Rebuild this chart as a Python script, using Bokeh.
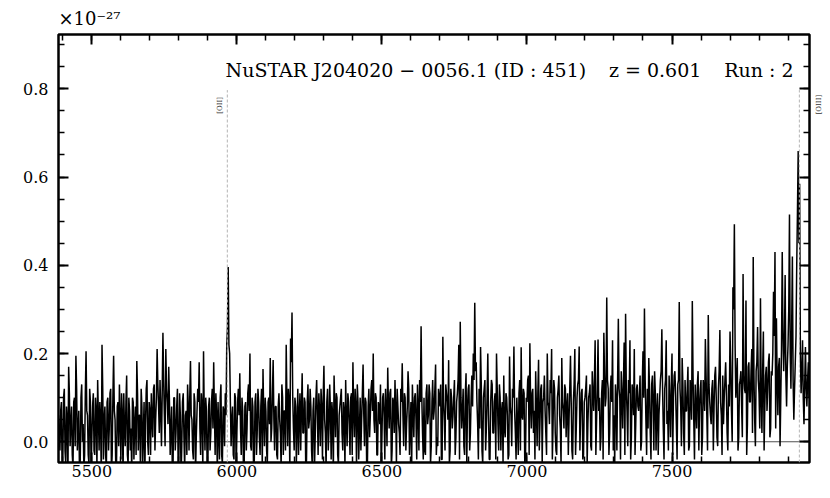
import numpy as np
from bokeh.plotting import figure
from bokeh.models import (LinearAxis, FixedTicker, PrintfTickFormatter, Label, Range1d,
                          Span, CustomLabelingPolicy)
from bokeh.embed import file_html
from bokeh.resources import INLINE

# ---------------- data (flux in units of 1e-27) ----------------
# main samples every 5 A starting at WL_START; "half" samples sit 2.5 A after each main one
WL_START = 5385.0
WL_STEP = 2.5

flux_5385 = [0.06, -0.02, 0.09, -0.04, 0.12, -0.05, 0.05, 0.17, -0.01, 0.08,
             -0.06, 0.10, 0.195, -0.02, 0.07, -0.04, 0.13, 0.04, -0.03, 0.205,
             0.06, -0.05, 0.09, 0.01, 0.11, -0.03, 0.07, 0.14, -0.02, 0.05,
             0.22, -0.04, 0.08, -0.06, 0.10, 0.03, 0.12, -0.03, 0.195, 0.05,
             -0.05, 0.09, 0.13, -0.04, 0.06, 0.11, -0.01, 0.15, -0.05, 0.07]
half_5385 = [0.02, 0.07, -0.07, 0.10, -0.02, 0.08, -0.08, 0.11, 0.04, -0.03,
             0.09, -0.01, 0.12, 0.03, -0.08, 0.10, 0.00, -0.06, 0.11, 0.07,
             -0.03, 0.12, -0.07, 0.08, -0.02, 0.10, -0.06, 0.06, 0.09, -0.08,
             0.12, 0.05, -0.03, 0.09, -0.02, 0.11, -0.07, 0.10, 0.07, -0.06,
             0.08, -0.01, 0.05, 0.11, -0.08, 0.03, 0.09, -0.03, 0.10, -0.02]
flux_5635 = [0.03, 0.10, -0.04, 0.08, 0.183, -0.02, 0.06, 0.12, -0.05, 0.09,
             0.04, 0.14, -0.03, 0.07, 0.11, 0.01, 0.13, 0.05, 0.21, 0.08,
             0.14, -0.01, 0.247, 0.06, 0.21, 0.09, 0.17, -0.03, 0.08, -0.05,
             0.10, 0.02, 0.12, -0.04, 0.06, -0.01, 0.11, -0.06, 0.07, 0.13,
             -0.02, 0.183, 0.05, -0.04, 0.09, 0.01, 0.12, 0.18, -0.03, 0.08]
half_5635 = [-0.07, 0.09, 0.04, -0.03, 0.11, 0.06, -0.06, 0.08, 0.02, -0.08,
             0.12, 0.00, 0.09, -0.03, 0.05, 0.12, -0.02, 0.10, 0.13, 0.02,
             0.07, 0.11, 0.14, -0.01, 0.12, 0.04, 0.09, 0.03, -0.07, 0.10,
             -0.02, 0.08, -0.06, 0.11, -0.08, 0.09, 0.01, 0.06, -0.03, 0.08,
             0.10, 0.06, -0.02, 0.11, -0.07, 0.07, 0.09, 0.03, 0.11, -0.06]
flux_5885 = [0.205, -0.02, 0.07, -0.05, 0.10, 0.02, 0.12, 0.18, -0.03, 0.06,
             0.09, -0.04, 0.13, -0.05, 0.07, 0.11, 0.22, 0.396, 0.20, -0.01,
             0.08, -0.04, 0.10, 0.02, 0.12, 0.155, -0.03, 0.07, -0.06, 0.09,
             0.03, 0.13, 0.20, -0.02, 0.08, -0.04, 0.11, 0.02, 0.09, -0.03,
             0.12, 0.165, -0.01, 0.07, -0.05, 0.10, 0.19, 0.03, 0.185, -0.02]
half_5885 = [0.06, 0.10, -0.06, 0.08, -0.02, 0.09, 0.03, 0.07, 0.11, -0.07,
             0.02, 0.10, -0.03, 0.08, -0.01, 0.06, 0.26, 0.22, 0.09, 0.05,
             -0.03, 0.11, -0.07, 0.09, 0.06, 0.03, 0.10, -0.06, 0.08, -0.02,
             0.11, 0.07, -0.01, 0.10, -0.07, 0.09, -0.03, 0.12, 0.01, 0.08,
             -0.06, 0.06, 0.10, -0.02, 0.09, 0.04, 0.00, 0.11, 0.05, 0.08]
flux_6135 = [0.08, -0.04, 0.11, 0.02, 0.13, -0.03, 0.07, 0.22, -0.01, 0.09,
             0.234, 0.293, 0.03, 0.10, -0.05, 0.12, 0.06, -0.02, 0.155, 0.02,
             0.09, -0.04, 0.13, 0.05, 0.08, -0.06, 0.10, 0.01, 0.14, -0.03,
             0.07, 0.12, -0.04, 0.172, 0.02, 0.09, -0.02, 0.13, -0.04, 0.06,
             0.15, 0.01, 0.10, -0.05, 0.08, 0.12, -0.02, 0.07, 0.14, -0.01]
half_6135 = [-0.03, 0.08, 0.05, -0.06, 0.10, 0.07, -0.02, 0.09, 0.12, -0.07,
             0.18, 0.10, -0.02, 0.08, 0.04, -0.03, 0.11, 0.07, 0.02, 0.10,
             -0.07, 0.09, 0.03, 0.12, -0.02, 0.07, -0.06, 0.10, 0.06, 0.11,
             -0.01, 0.08, 0.10, 0.05, -0.06, 0.12, 0.03, 0.07, 0.09, -0.07,
             0.08, 0.11, -0.03, 0.06, 0.10, 0.02, 0.09, -0.06, 0.05, 0.11]
flux_6385 = [0.09, -0.03, 0.11, 0.18, 0.01, 0.08, 0.13, -0.04, 0.10, 0.05,
             0.175, -0.01, 0.09, -0.05, 0.12, 0.06, 0.14, 0.20, 0.02, 0.10,
             -0.03, 0.08, 0.13, 0.01, 0.11, -0.04, 0.07, 0.168, 0.03, 0.12,
             -0.02, 0.09, 0.14, -0.05, 0.08, 0.02, 0.12, 0.178, -0.01, 0.10,
             0.04, 0.16, -0.03, 0.09, 0.13, 0.01, 0.11, -0.04, 0.08, 0.14]
half_6385 = [0.04, 0.10, -0.03, 0.07, 0.12, -0.06, 0.09, 0.03, -0.02, 0.11,
             0.06, 0.10, -0.06, 0.08, 0.01, 0.12, 0.07, 0.05, 0.11, -0.03,
             0.09, 0.04, -0.07, 0.10, 0.06, 0.12, -0.01, 0.08, 0.11, -0.06,
             0.10, 0.02, 0.07, 0.12, 0.04, -0.03, 0.09, 0.06, 0.11, -0.02,
             0.08, 0.12, 0.03, -0.06, 0.07, 0.10, 0.05, 0.13, -0.02, 0.09]
flux_6635 = [0.262, 0.02, 0.10, -0.03, 0.13, 0.06, 0.11, -0.01, 0.14, 0.07,
             0.175, 0.01, 0.12, 0.08, -0.04, 0.238, 0.05, 0.13, 0.09, 0.185,
             -0.02, 0.10, 0.06, 0.14, 0.01, 0.11, 0.22, 0.272, 0.03, 0.12,
             -0.03, 0.155, 0.08, 0.13, 0.02, 0.15, 0.20, 0.315, 0.18, 0.04,
             0.12, 0.215, -0.02, 0.10, 0.14, 0.03, 0.20, -0.04, 0.09, 0.13]
half_6635 = [0.10, -0.04, -0.02, 0.11, 0.04, 0.13, -0.05, 0.09, 0.05, 0.12,
             -0.03, -0.01, 0.10, 0.13, -0.04, 0.09, -0.02, 0.11, 0.05, -0.05,
             0.12, 0.03, 0.10, -0.03, 0.09, 0.14, -0.04, 0.10, 0.07, -0.01,
             0.11, -0.05, 0.12, -0.02, 0.10, 0.08, 0.14, 0.16, 0.09, -0.04,
             0.03, 0.13, -0.05, 0.12, -0.02, 0.10, 0.06, -0.04, 0.14, 0.02]
flux_6885 = [0.02, 0.11, 0.20, 0.04, 0.13, -0.02, 0.09, 0.15, 0.01, 0.10,
             -0.04, 0.193, 0.06, 0.12, 0.216, 0.02, 0.10, -0.03, 0.14, 0.214,
             0.05, 0.11, -0.03, 0.09, 0.15, 0.223, 0.03, 0.12, 0.07, 0.16,
             -0.01, 0.186, 0.05, 0.13, 0.09, 0.15, 0.02, 0.20, 0.08, 0.14,
             0.21, 0.04, 0.12, -0.02, 0.10, 0.15, 0.03, 0.19, 0.07, 0.13]
half_6885 = [0.09, -0.04, 0.12, -0.02, 0.10, 0.07, -0.05, 0.03, 0.11, 0.06,
             -0.03, 0.08, -0.01, 0.10, 0.07, -0.04, 0.04, 0.11, -0.02, 0.06,
             0.12, -0.05, 0.10, 0.14, -0.03, 0.09, 0.11, 0.02, -0.04, 0.08,
             0.11, -0.02, 0.12, -0.05, 0.10, 0.07, -0.03, 0.09, 0.04, 0.11,
             -0.04, 0.14, 0.02, -0.03, 0.12, 0.06, -0.05, 0.09, 0.03, 0.12]
flux_7135 = [0.01, 0.11, 0.05, 0.195, -0.02, 0.09, 0.21, 0.03, 0.13, 0.216,
             0.06, 0.12, -0.03, 0.10, 0.15, 0.04, 0.11, -0.01, 0.16, 0.07,
             0.23, 0.05, 0.232, 0.10, 0.01, 0.14, 0.247, 0.08, 0.327, 0.12,
             0.02, 0.15, 0.23, 0.06, 0.13, -0.02, 0.279, 0.10, 0.16, 0.03,
             0.225, 0.29, 0.07, 0.14, 0.23, 0.01, 0.11, 0.21, 0.04, 0.13]
half_7135 = [0.08, -0.03, 0.12, 0.09, -0.04, 0.13, -0.03, 0.10, 0.14, -0.02,
             0.11, -0.04, 0.09, 0.12, -0.05, 0.10, 0.13, -0.02, 0.11, 0.14,
             -0.03, 0.12, 0.07, -0.02, 0.11, -0.04, 0.15, 0.10, 0.14, -0.03,
             0.12, 0.09, -0.02, -0.05, 0.10, 0.14, 0.12, -0.04, 0.11, 0.13,
             -0.03, 0.12, -0.01, 0.11, -0.04, 0.13, 0.06, -0.03, 0.12, 0.08]
flux_7385 = [0.07, 0.15, 0.00, 0.205, 0.302, 0.05, 0.12, 0.19, 0.02, 0.13,
             0.08, 0.16, -0.02, 0.11, 0.06, 0.14, 0.255, 0.03, 0.12, 0.23,
             0.07, 0.15, 0.01, 0.20, 0.10, 0.16, 0.04, 0.13, 0.317, 0.08,
             0.19, 0.02, 0.14, 0.07, 0.17, -0.01, 0.11, 0.319, 0.05, 0.13,
             0.03, 0.16, 0.08, 0.14, 0.01, 0.12, 0.233, 0.06, 0.287, 0.09]
half_7385 = [0.11, -0.02, 0.13, 0.10, 0.14, -0.03, 0.03, 0.12, -0.04, 0.15,
             -0.02, 0.11, 0.07, -0.03, 0.10, 0.16, 0.12, -0.04, 0.14, 0.04,
             -0.02, 0.09, 0.13, -0.03, 0.15, 0.11, -0.04, 0.14, 0.12, -0.01,
             0.13, -0.03, 0.07, 0.12, -0.02, 0.14, 0.05, 0.15, -0.04, 0.08,
             0.13, -0.02, 0.12, -0.03, 0.14, 0.07, 0.15, -0.02, 0.13, 0.06]
flux_7635 = [0.04, 0.14, 0.08, 0.17, 0.01, 0.12, 0.253, 0.06, 0.15, 0.10,
             0.18, 0.02, 0.13, 0.25, 0.07, 0.35, 0.493, 0.10, 0.19, 0.01,
             0.14, 0.08, 0.38, 0.12, 0.32, 0.04, 0.18, 0.09, 0.21, 0.419,
             0.05, 0.16, 0.26, 0.11, 0.325, 0.02, 0.25, 0.08, 0.17, 0.12,
             0.20, 0.03, 0.15, 0.34, 0.43, 0.28, 0.06, 0.19, 0.10, 0.43]
half_7635 = [0.12, -0.02, 0.15, 0.10, -0.01, 0.16, 0.09, -0.03, 0.04, 0.14,
             0.11, -0.02, 0.08, 0.17, 0.00, 0.30, 0.22, 0.14, -0.02, 0.13,
             0.16, 0.01, 0.15, 0.11, -0.03, 0.17, 0.09, 0.16, 0.02, 0.15,
             -0.01, 0.18, 0.14, 0.03, 0.10, 0.16, -0.02, 0.15, 0.07, 0.18,
             0.01, 0.16, 0.20, 0.24, 0.03, 0.14, 0.17, -0.01, 0.21, 0.25]
flux_7885 = [0.16, 0.378, 0.08, 0.22, 0.515, 0.12, 0.42, 0.05, 0.18, 0.40,
             0.659, 0.585, 0.11, 0.23, 0.04, 0.215, 0.08, 0.18]
half_7885 = [0.22, 0.15, 0.17, 0.30, 0.20, 0.26, 0.14, 0.12, 0.24, 0.52,
             0.45, 0.20, 0.16, 0.10, 0.13, 0.12, 0.14, 0.10]

main_segments = [flux_5385, flux_5635, flux_5885, flux_6135, flux_6385, flux_6635,
                 flux_6885, flux_7135, flux_7385, flux_7635, flux_7885]
half_segments = [half_5385, half_5635, half_5885, half_6135, half_6385, half_6635,
                 half_6885, half_7135, half_7385, half_7635, half_7885]
flux = []
for m, h in zip(main_segments, half_segments):
    assert len(m) == len(h)
    for a, b in zip(m, h):
        flux += [a, b]
wavelength = WL_START + WL_STEP * np.arange(len(flux))

X_RANGE = (5385.0, 7974.0)
Y_RANGE = (-0.047, 0.923)
x_major = [5500, 6000, 6500, 7000, 7500]
x_minor = [5400, 5500, 5600, 5700, 5800, 5900, 6000, 6100, 6200, 6300, 6400, 6500, 6600,
           6700, 6800, 6900, 7000, 7100, 7200, 7300, 7400, 7500, 7600, 7700, 7800, 7900]
y_major = [0.0, 0.2, 0.4, 0.6, 0.8]
y_minor = [-0.05, 0.0, 0.05, 0.1, 0.15, 0.2, 0.25, 0.3, 0.35, 0.4, 0.45, 0.5,
           0.55, 0.6, 0.65, 0.7, 0.75, 0.8, 0.85, 0.9]

line_names = ["[OII]", "[OIII]"]
line_waves = [5967.0, 7939.0]
line_top = 0.797
oiii_label_y = 0.742

title_text = "NuSTAR J204020 \u2212 0056.1 (ID : 451)\u2003\u2009z = 0.601\u2003\u2009Run : 2"
scale_text = "\u00d710\u207b\u00b2\u2077"

# ---------------- layout ----------------
W, H = 830, 498
BL, BR, BT, BB = 58, 17, 34, 36
FW, FH = W - BL - BR, H - BT - BB
PXY = FH / (Y_RANGE[1] - Y_RANGE[0])
SERIF = "DejaVu Serif"

p = figure(width=W, height=H, x_range=Range1d(*X_RANGE), y_range=Range1d(*Y_RANGE),
           output_backend="svg", toolbar_location=None,
           min_border_left=BL, min_border_right=BR, min_border_top=BT, min_border_bottom=BB)
p.grid.visible = False
p.outline_line_color = "black"
p.outline_line_width = 2.5
p.background_fill_color = "white"
p.border_fill_color = "white"

bottom_axis = p.below[0]
left_axis = p.left[0]
top_axis = LinearAxis()
right_axis = LinearAxis()
p.add_layout(top_axis, "above")
p.add_layout(right_axis, "right")

no_labels = CustomLabelingPolicy(code="return new Set()")


def style(ax, ticks, minors, labels):
    ax.ticker = FixedTicker(ticks=ticks, minor_ticks=minors)
    ax.axis_line_color = None
    ax.major_tick_line_color = "black"
    ax.minor_tick_line_color = "black"
    ax.major_tick_line_width = 2
    ax.minor_tick_line_width = 1.5
    ax.major_tick_in = 10
    ax.major_tick_out = 0
    ax.minor_tick_in = 6
    ax.minor_tick_out = 0
    if labels:
        ax.major_label_text_font = SERIF
        ax.major_label_text_font_size = "16px"
        ax.major_label_text_color = "black"
    else:
        ax.major_label_policy = no_labels
        ax.major_label_text_font_size = "1px"
        ax.major_label_standoff = 0


style(bottom_axis, x_major, x_minor, True)
style(top_axis, x_major, x_minor, False)
style(left_axis, y_major, y_minor, True)
style(right_axis, y_major, y_minor, False)
bottom_axis.major_label_standoff = 2
left_axis.major_label_standoff = 10
left_axis.formatter = PrintfTickFormatter(format="%.1f")

# line label that sits beyond the right spine (drawn in the border, like the reference)
oiii_axis = LinearAxis(ticker=FixedTicker(ticks=[oiii_label_y], minor_ticks=[]),
                       major_label_overrides={oiii_label_y: line_names[1]},
                       axis_line_color=None, major_tick_line_color=None,
                       minor_tick_line_color=None, major_tick_in=0, major_tick_out=0,
                       minor_tick_in=0, minor_tick_out=0, major_label_standoff=6,
                       major_label_orientation=np.pi / 2,
                       major_label_text_font=SERIF, major_label_text_font_size="7px",
                       major_label_text_color="#333333")
p.add_layout(oiii_axis, "right")

# scale factor in the top-left corner
p.title.text = scale_text
p.title.align = "left"
p.title.text_font = SERIF
p.title.text_font_size = "18px"
p.title.text_font_style = "normal"
p.title.text_color = "black"
p.title.standoff = 3

p.add_layout(Span(location=0.0, dimension="width", line_color="#505050",
                  line_width=1, level="underlay"))

p.line(wavelength, flux, line_color="black", line_width=1.5)

p.segment(x0=line_waves, y0=[Y_RANGE[0]] * len(line_waves), x1=line_waves,
          y1=[line_top] * len(line_waves), line_color="#b4b4b4", line_width=1,
          line_dash="3 2")

p.add_layout(Label(x=line_waves[0], y=line_top - 7 / PXY, text=line_names[0],
                   angle=np.pi / 2, text_align="right", text_baseline="bottom",
                   x_offset=-3, text_font=SERIF, text_font_size="7px",
                   text_color="#333333"))

p.add_layout(Label(x=X_RANGE[1], y=Y_RANGE[1] - 35 / PXY, text=title_text,
                   text_align="right", text_baseline="middle", x_offset=-16,
                   text_font=SERIF, text_font_size="19px", text_color="black"))

open("out.html", "w").write(file_html(p, INLINE))
